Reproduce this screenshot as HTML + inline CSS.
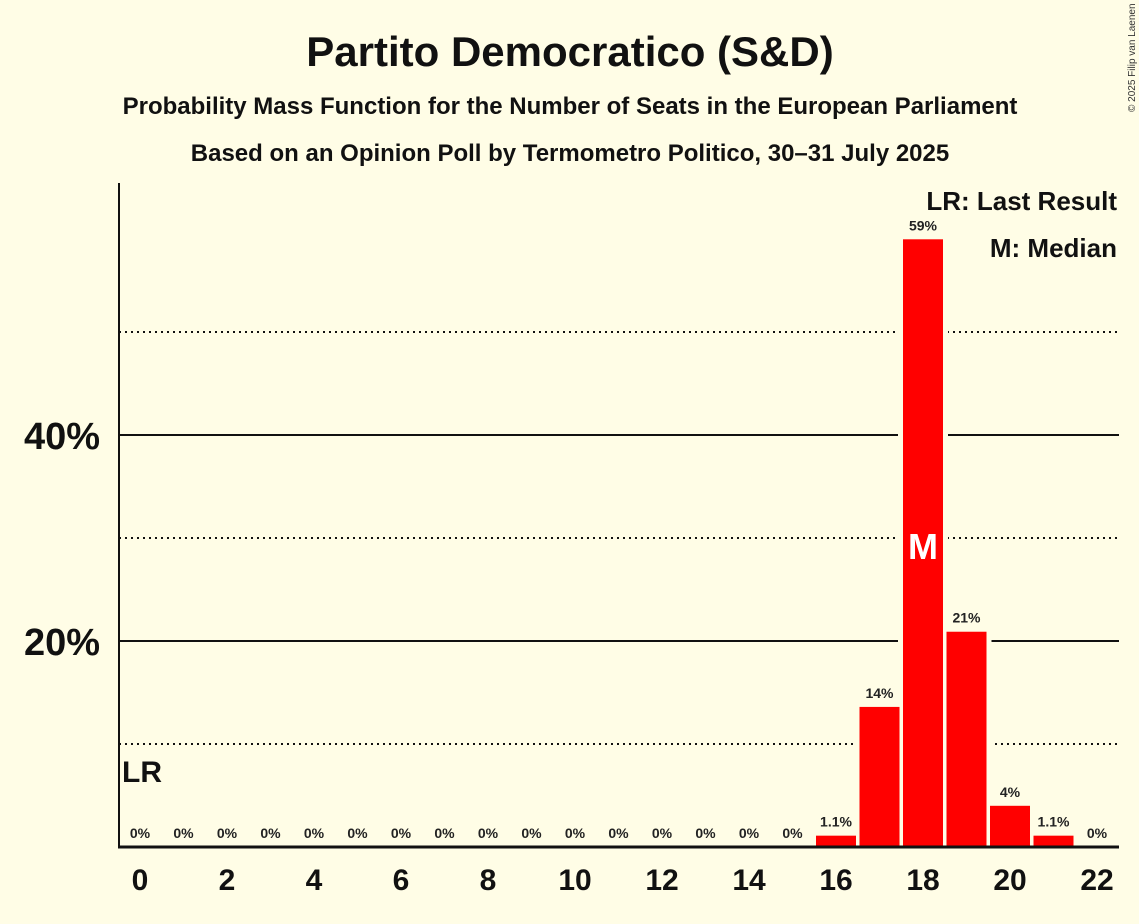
<!DOCTYPE html>
<html><head><meta charset="utf-8"><style>
body{margin:0;background:#FFFDE6;}
svg{display:block;font-family:"Liberation Sans",sans-serif;}
</style></head><body>
<svg id="chart" width="1139" height="924">
<rect width="1139" height="924" fill="#FFFDE6"/>
<text x="570" y="66" text-anchor="middle" font-size="42" font-weight="bold" fill="#111">Partito Democratico (S&amp;D)</text>
<text x="570" y="114" text-anchor="middle" font-size="24" font-weight="bold" fill="#111">Probability Mass Function for the Number of Seats in the European Parliament</text>
<text x="570" y="161" text-anchor="middle" font-size="24" font-weight="bold" fill="#111">Based on an Opinion Poll by Termometro Politico, 30–31 July 2025</text>
<text x="1135" y="112" transform="rotate(-90 1135 112)" font-size="10" fill="#333">© 2025 Filip van Laenen</text>
<text x="1117" y="210" text-anchor="end" font-size="26" font-weight="bold" fill="#111">LR: Last Result</text>
<text x="1117" y="257" text-anchor="end" font-size="26" font-weight="bold" fill="#111">M: Median</text>
<g id="grid"></g>
<g id="gaps"></g>
<g id="bars"></g>
<g id="labels"></g>
<line x1="119" y1="183" x2="119" y2="848" stroke="#111" stroke-width="2"/>
<line x1="118" y1="847" x2="1119" y2="847" stroke="#111" stroke-width="3"/>
<text x="122" y="782" font-size="30" font-weight="bold" fill="#111">LR</text>
</svg>
<script>
const seats=[0,1,2,3,4,5,6,7,8,9,10,11,12,13,14,15,16,17,18,19,20,21,22];
const probs=[0,0,0,0,0,0,0,0,0,0,0,0,0,0,0,0,1.1,13.6,59,20.9,4.0,1.1,0];
const valueLabels=["0%","0%","0%","0%","0%","0%","0%","0%","0%","0%","0%","0%","0%","0%","0%","0%","1.1%","14%","59%","21%","4%","1.1%","0%"];
const xTicks=[0,2,4,6,8,10,12,14,16,18,20,22];
const yMajor=[20,40];
const yMinor=[10,30,50];
const medianSeat=18;
const NS="http://www.w3.org/2000/svg";
const x=s=>140+s*(1097-140)/22;
const y=v=>847-v*10.3;
function mk(t,a,p){const e=document.createElementNS(NS,t);for(const k in a)e.setAttribute(k,a[k]);p.appendChild(e);return e;}
const grid=document.getElementById('grid'),gaps=document.getElementById('gaps'),bars=document.getElementById('bars'),labels=document.getElementById('labels');
yMinor.forEach(v=>{const l=mk('line',{x1:119,x2:1119,y1:y(v),y2:y(v),stroke:'#111','stroke-width':2,'stroke-dasharray':'2,4'},grid);

});
yMajor.forEach(v=>{const l=mk('line',{x1:119,x2:1119,y1:y(v),y2:y(v),stroke:'#111','stroke-width':2},grid);


const t=mk('text',{x:100,y:y(v)+14,'text-anchor':'end','font-size':38,'font-weight':'bold',fill:'#111'},grid);t.textContent=v+'%';

});
xTicks.forEach(s=>{const t=mk('text',{x:x(s),y:890,'text-anchor':'middle','font-size':30,'font-weight':'bold',fill:'#111'},labels);t.textContent=s;

});
seats.forEach((s,i)=>{const v=probs[i];
if(v>0){const g=mk('rect',{x:x(s)-25,y:y(v)-5,width:50,height:847-y(v)+5,fill:'#FFFDE6'},gaps);


const r=mk('rect',{x:x(s)-20,y:y(v),width:40,height:847-y(v),fill:'#FF0000'},bars);

}
const t=mk('text',{x:x(s),y:(v>0?y(v)-9:838),'text-anchor':'middle','font-size':14,'font-weight':'bold',fill:'#222'},labels);t.textContent=valueLabels[i];


if(s===medianSeat){const m=mk('text',{x:x(s),y:y(30)+21,'text-anchor':'middle','font-size':36,'font-weight':'bold',fill:'#fff'},labels);m.textContent='M';

}
});
</script>
</body></html>
